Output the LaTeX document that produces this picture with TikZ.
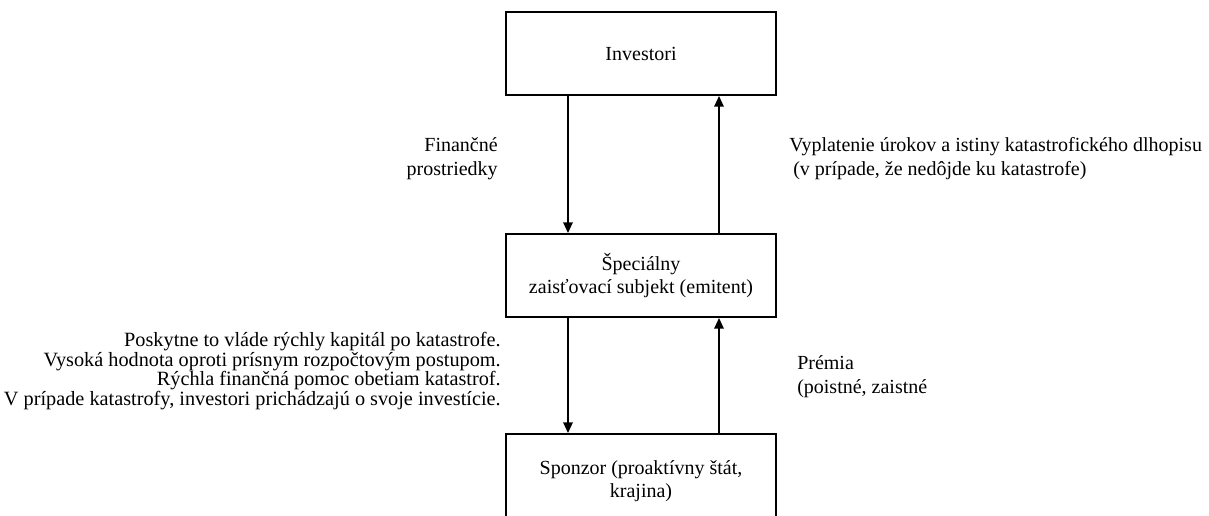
\documentclass[tikz,border=0pt]{standalone}
\usepackage{fontspec}
\setmainfont{Liberation Serif}
\usetikzlibrary{arrows.meta}
\begin{document}
\begin{tikzpicture}[x=0.75pt,y=-0.75pt,
  box/.style={draw,line width=1.4pt,minimum width=202.5pt,inner sep=0pt,align=center,font=\fontsize{15pt}{17pt}\selectfont},
  arr/.style={line width=1.4pt,-{Triangle[length=8pt,width=7pt]}},
  lbl/.style={inner sep=0pt,font=\fontsize{15pt}{18pt}\selectfont},
  lbls/.style={inner sep=0pt,font=\fontsize{15.2pt}{14.8pt}\selectfont}]
\useasboundingbox (0,0) rectangle (1209,515);
\node[box,minimum height=62.25pt] (inv) at (641,53.5) {Investori};
\node[box,minimum height=62.25pt] (spv) at (641,275.5) {Špeciálny\\zaisťovací subjekt (emitent)};
\node[box,minimum height=70.5pt] (spo) at (641,481) {Sponzor (proaktívny štát,\\krajina)};
\coordinate (xl) at (568,0);
\coordinate (xr) at (719,0);
\draw[arr] (inv.south -| xl) -- (spv.north -| xl);
\draw[arr] (spv.north -| xr) -- (inv.south -| xr);
\draw[arr] (spv.south -| xl) -- (spo.north -| xl);
\draw[arr] (spo.north -| xr) -- (spv.south -| xr);
\node[lbl,align=right,anchor=east] (fin) at (498,159) {Finančné\\prostriedky};
\node[lbl,align=left,anchor=west] (vyp) at (789,159) {Vyplatenie úrokov a istiny katastrofického dlhopisu\\\hspace{3pt}(v prípade, že nedôjde ku katastrofe)};
\node[lbl,align=left,anchor=west] (prem) at (797,377) {Prémia\\(poistné, zaistné};
\node[lbls,align=right,anchor=east] (pos) at (501,371) {Poskytne to vláde rýchly kapitál po katastrofe.\\Vysoká hodnota oproti prísnym rozpočtovým postupom.\\Rýchla finančná pomoc obetiam katastrof.\\V prípade katastrofy, investori prichádzajú o svoje investície.};
\end{tikzpicture}
\end{document}
